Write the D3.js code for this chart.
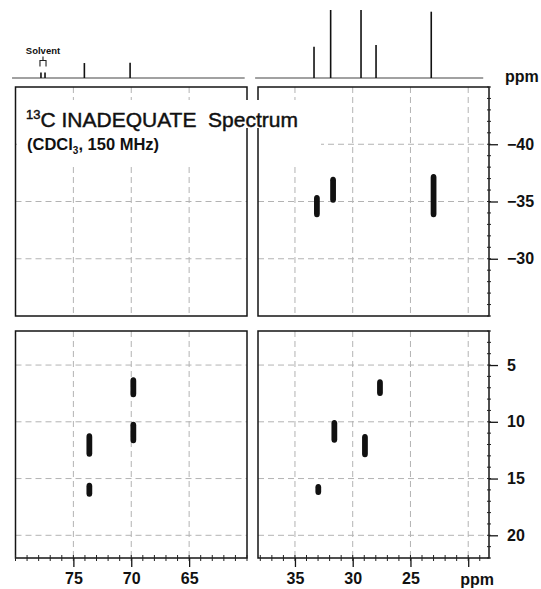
<!DOCTYPE html>
<html>
<head>
<meta charset="utf-8">
<script src="https://cdn.jsdelivr.net/npm/d3@7"></script>
<style>
  body { margin: 0; background: #fff; }
  svg { display: block; }
  text { font-family: "Liberation Sans", Arial, Helvetica, sans-serif; fill: #111; }
</style>
</head>
<body>
<svg id="chart" width="541" height="589"></svg>
<script>
// ---- 1D 13C spectrum (projection on top): shift in ppm, relative intensity ----
const solventPeaks = [{ ppm: 77.8, h: 8 }, { ppm: 77.45, h: 8 }];
const peaks1DLeft = [{ ppm: 74.05, h: 22 }, { ppm: 70.1, h: 22.5 }];
const peaks1DRight = [
  { ppm: 33.35, h: 46 }, { ppm: 31.91, h: 100 }, { ppm: 29.28, h: 100 },
  { ppm: 27.98, h: 48.5 }, { ppm: 23.2, h: 97.5 }
];
// baseline extent of each half of the projection (ppm)
const baselineLeft = [80.3, 60.2];
const baselineRight = [38.45, 18.7];

// ---- 2D INADEQUATE cross peaks: F2 shift and F1 extent (ppm) ----
const crossTopRight = [
  { f2: 33.1, f1: [-35.57, -33.62] },
  { f2: 31.7, f1: [-37.17, -34.9] },
  { f2: 23.0, f1: [-37.4, -33.62] }
];
const crossBottomLeft = [
  { f2: 69.82, f1: [6.08, 7.84] },
  { f2: 69.82, f1: [9.99, 11.89] },
  { f2: 73.62, f1: [11.01, 13.07] },
  { f2: 73.62, f1: [15.37, 16.6] }
];
const crossBottomRight = [
  { f2: 27.64, f1: [6.26, 7.73] },
  { f2: 31.59, f1: [9.84, 11.84] },
  { f2: 28.94, f1: [11.07, 13.13] },
  { f2: 32.98, f1: [15.48, 16.45] }
];

// ---- tick values ----
const f2TicksLeft = [75, 70, 65];
const f2TicksRight = [35, 30, 25, 20];
const f1TicksTop = [-40, -35, -30];
const f1TicksBottom = [5, 10, 15, 20];

// ---- scales ----
const xL = d3.scaleLinear().domain([80, 60]).range([15.5, 247]);
const xR = d3.scaleLinear().domain([38.2, 18.2]).range([258, 489]);
const yT = d3.scaleLinear().domain([-45, -25]).range([87, 316]);
const yB = d3.scaleLinear().domain([2, 22]).range([331, 558]);
const hS = d3.scaleLinear().domain([0, 100]).range([78, 10]);

const svg = d3.select("#chart");

const panels = [
  { x: xL, y: yT, vTicks: f2TicksLeft, hTicks: f1TicksTop, peaks: [] },
  { x: xR, y: yT, vTicks: f2TicksRight, hTicks: f1TicksTop, peaks: crossTopRight },
  { x: xL, y: yB, vTicks: f2TicksLeft, hTicks: f1TicksBottom, peaks: crossBottomLeft },
  { x: xR, y: yB, vTicks: f2TicksRight, hTicks: f1TicksBottom, peaks: crossBottomRight }
];

// dashed grid
const grid = svg.append("g")
  .attr("stroke", "#b3b3b3").attr("stroke-width", 1).attr("stroke-dasharray", "6,4");
panels.forEach(p => {
  const [x0, x1] = p.x.range(), [y0, y1] = p.y.range();
  grid.selectAll(null).data(p.vTicks).join("line")
    .attr("x1", d => p.x(d)).attr("x2", d => p.x(d)).attr("y1", y0).attr("y2", y1);
  grid.selectAll(null).data(p.hTicks).join("line")
    .attr("y1", d => p.y(d)).attr("y2", d => p.y(d)).attr("x1", x0).attr("x2", x1);
});

// title backdrop (lower part, behind frames)
svg.append("rect").attr("x", 17).attr("y", 127).attr("width", 304).attr("height", 36).attr("fill", "#fff");

// panel frames
panels.forEach(p => {
  const [x0, x1] = p.x.range(), [y0, y1] = p.y.range();
  svg.append("rect")
    .attr("x", x0).attr("y", y0).attr("width", x1 - x0).attr("height", y1 - y0)
    .attr("fill", "none").attr("stroke", "#151515").attr("stroke-width", 1.5);
});

// cross peaks
panels.forEach(p => {
  svg.append("g").selectAll("rect").data(p.peaks).join("rect")
    .attr("x", d => p.x(d.f2 + 0.25))
    .attr("width", d => p.x(d.f2 - 0.25) - p.x(d.f2 + 0.25))
    .attr("y", d => p.y(d.f1[0]))
    .attr("height", d => p.y(d.f1[1]) - p.y(d.f1[0]))
    .attr("rx", 2.8).attr("ry", 3.5)
    .attr("fill", "#111");
});

// 1D projection
const spec = svg.append("g");
[[xL, baselineLeft], [xR, baselineRight]].forEach(([sx, b]) => {
  spec.append("line")
    .attr("x1", sx(b[0])).attr("x2", sx(b[1])).attr("y1", hS(0)).attr("y2", hS(0))
    .attr("stroke", "#444").attr("stroke-width", 1.2);
});
[[xL, peaks1DLeft.concat(solventPeaks)], [xR, peaks1DRight]].forEach(([sx, pk]) => {
  spec.selectAll(null).data(pk).join("line")
    .attr("x1", d => sx(d.ppm)).attr("x2", d => sx(d.ppm))
    .attr("y1", hS(0)).attr("y2", d => hS(d.h))
    .attr("stroke", "#111").attr("stroke-width", 1.6);
});
// solvent bracket
const sMid = d3.mean(solventPeaks, d => xL(d.ppm));
const sLo = xL(solventPeaks[0].ppm) - 1, sHi = xL(solventPeaks[1].ppm) + 1;
spec.append("path")
  .attr("d", `M${sMid},56.5V60.5M${sLo},66.5V60.5H${sHi}V66.5`)
  .attr("fill", "none").attr("stroke", "#222").attr("stroke-width", 1.1);
spec.append("text").attr("x", sMid).attr("y", 54).attr("text-anchor", "middle")
  .attr("font-size", 9.5).attr("font-weight", "bold").text("Solvent");
svg.append("text").attr("x", 505).attr("y", 82)
  .attr("font-size", 16).attr("font-weight", "bold").text("ppm");

// bottom F2 axes
function styleAxis(g) {
  g.select(".domain").remove();
  g.selectAll(".tick line").attr("stroke", "#151515").attr("stroke-width", 1.3);
  g.selectAll(".tick text").attr("font-size", 16).attr("font-weight", "bold")
    .attr("font-family", "'Liberation Sans', Arial, sans-serif").attr("fill", "#111");
}
const fmt = d3.format("d");
svg.append("g").attr("transform", `translate(0,${yB.range()[1]})`)
  .call(d3.axisBottom(xL).tickValues(f2TicksLeft).tickSize(9).tickPadding(6).tickFormat(fmt))
  .call(styleAxis);
svg.append("g").attr("transform", `translate(0,${yB.range()[1]})`)
  .call(d3.axisBottom(xR).tickValues(f2TicksRight).tickSize(9).tickPadding(6)
    .tickFormat(d => d === 20 ? "" : fmt(d)))
  .call(styleAxis);
svg.append("text").attr("x", xR(20) + 9).attr("y", 585).attr("text-anchor", "middle")
  .attr("font-size", 16).attr("font-weight", "bold").text("ppm");

// right F1 axes
svg.append("g").attr("transform", `translate(${xR.range()[1]},0)`)
  .call(d3.axisRight(yT).tickValues(f1TicksTop).tickSize(9).tickPadding(9).tickFormat(fmt))
  .call(styleAxis);
svg.append("g").attr("transform", `translate(${xR.range()[1]},0)`)
  .call(d3.axisRight(yB).tickValues(f1TicksBottom).tickSize(9).tickPadding(9).tickFormat(fmt))
  .call(styleAxis);

// minor ticks (1 ppm)
const minor = svg.append("g").attr("stroke", "#222").attr("stroke-width", 1);
[xL, xR].forEach(sx => {
  const [a, b] = sx.domain();
  minor.selectAll(null).data(d3.range(Math.ceil(b), Math.floor(a) + 1)).join("line")
    .attr("x1", d => sx(d)).attr("x2", d => sx(d))
    .attr("y1", yB.range()[1] - 3).attr("y2", yB.range()[1] + 3);
});
[yT, yB].forEach(sy => {
  const [a, b] = sy.domain();
  minor.selectAll(null).data(d3.range(Math.ceil(a), Math.floor(b) + 1)).join("line")
    .attr("y1", d => sy(d)).attr("y2", d => sy(d))
    .attr("x1", xR.range()[1] - 2).attr("x2", xR.range()[1] + 2);
});

// title with its backdrop over grid and frames
svg.append("rect").attr("x", 20).attr("y", 100).attr("width", 302).attr("height", 28).attr("fill", "#fff");
const t1 = svg.append("text").attr("x", 26).attr("y", 126.5).attr("font-size", 21)
  .attr("stroke", "#111").attr("stroke-width", 0.45);
t1.append("tspan").attr("font-size", 13).attr("dy", -8).text("13");
t1.append("tspan").attr("dy", 8).text("C INADEQUATE\u00a0\u00a0Spectrum");
const t2 = svg.append("text").attr("x", 27).attr("y", 150).attr("font-size", 16.5).attr("font-weight", "bold");
t2.append("tspan").text("(CDCl");
t2.append("tspan").attr("font-size", 10).attr("dy", 4).text("3");
t2.append("tspan").attr("dy", -4).text(", 150 MHz)");
</script>
</body>
</html>
